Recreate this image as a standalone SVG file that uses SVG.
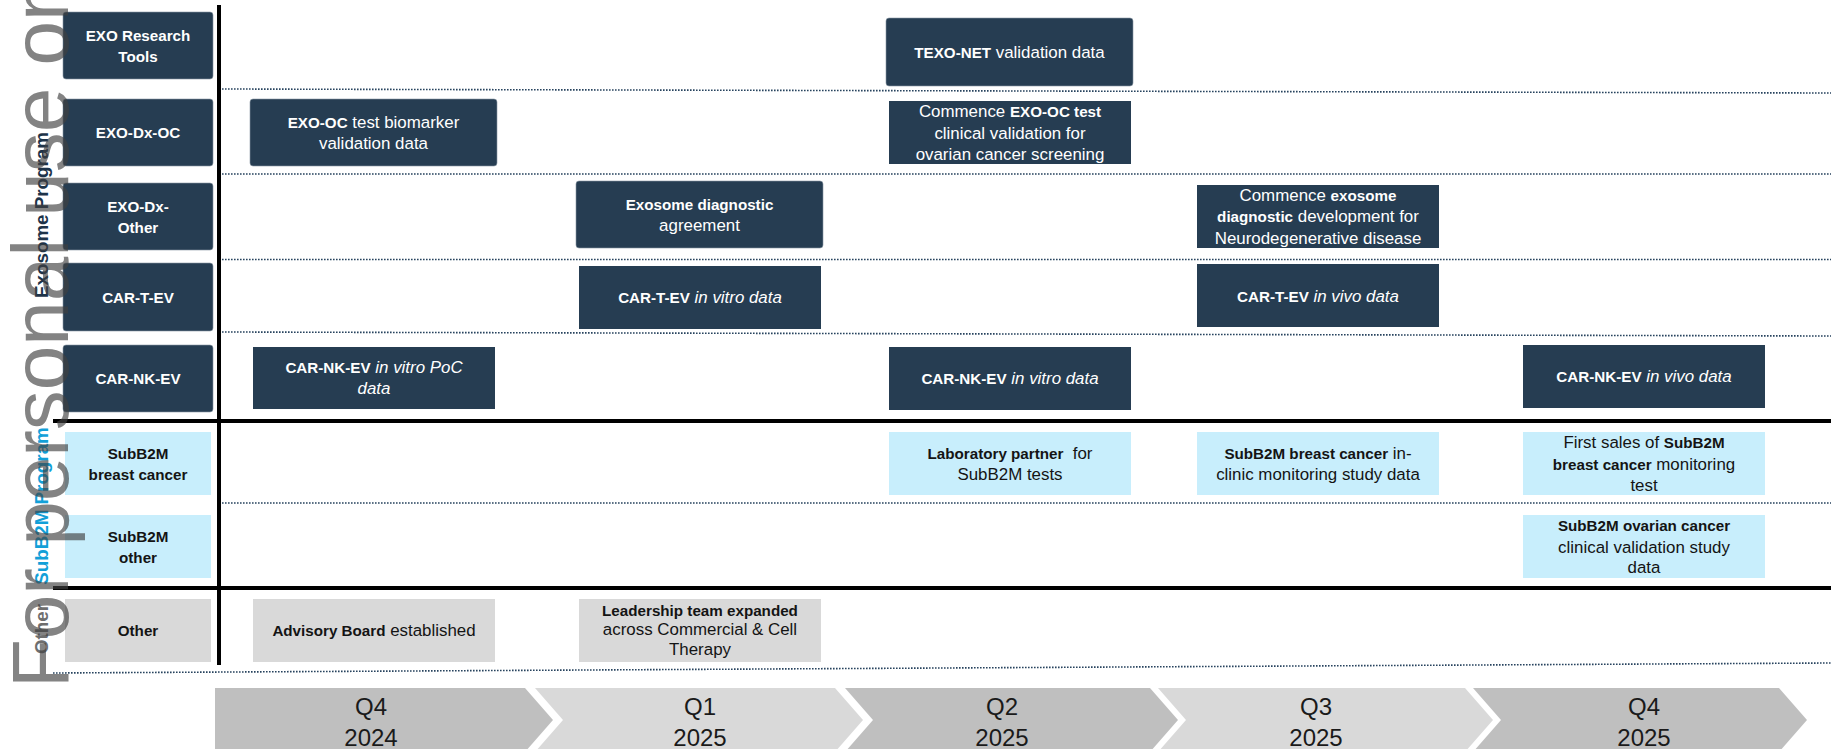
<svg xmlns="http://www.w3.org/2000/svg" width="1831" height="749" viewBox="0 0 1831 749">
<style>
.dk{fill:#263d52}
.dkr{fill:#263d52;stroke:#8b98a4;stroke-width:1;stroke-opacity:0.6}
.lb{fill:#c8eefc}
.gy{fill:#d9d9d9}
.chd{fill:#bfbfbf}
.chl{fill:#d9d9d9}
text{font-family:"Liberation Sans",Arial,sans-serif;text-anchor:middle}
.w{fill:#ffffff}
.k{fill:#141414}
.r{font-size:16.9px}
.b{font-weight:bold;font-size:15.2px}
.i{font-style:italic;font-size:16.9px}
.q{font-size:24px;fill:#1a1a1a}
.dot{stroke:#27435e;stroke-width:1.6;stroke-dasharray:1.6 1.4;fill:none}
.sol{stroke:#000;stroke-width:4;fill:none}
.vl{font-weight:bold;font-size:18.8px}
</style>

<g id="grid">
<line class="dot" x1="222" y1="89" x2="1831" y2="93"/>
<line class="dot" x1="222" y1="174" x2="1831" y2="174"/>
<line class="dot" x1="222" y1="259.5" x2="1831" y2="259.5"/>
<line class="dot" x1="222" y1="332" x2="1831" y2="336"/>
<line class="dot" x1="222" y1="503" x2="1831" y2="503"/>
<line class="dot" x1="53" y1="673" x2="1831" y2="663"/>
<line class="sol" x1="53" y1="421" x2="1831" y2="421"/>
<line class="sol" x1="53" y1="588" x2="1831" y2="588"/>
<line class="sol" x1="219" y1="5" x2="219" y2="665"/>
</g>

<g id="section-labels">
<text class="vl" transform="translate(48,215) rotate(-90)" fill="#1d3349">Exosome Program</text>
<text class="vl" transform="translate(48,506) rotate(-90)" fill="#12a0d8">SubB2M Program</text>
<text class="vl" transform="translate(48,629) rotate(-90)" fill="#6e6e6e">Other</text>
</g>

<g id="row-exo-research-tools">
<rect class="dkr" x="63" y="12" width="150" height="67" rx="3"/>
<text class="w b" x="138" y="40.5">EXO Research</text>
<text class="w b" x="138" y="61.5">Tools</text>
</g>
<g id="row-exo-dx-oc">
<rect class="dkr" x="63" y="99" width="150" height="67" rx="3"/>
<text class="w b" x="138" y="138">EXO-Dx-OC</text>
</g>
<g id="row-exo-dx-other">
<rect class="dkr" x="63" y="183" width="150" height="67" rx="3"/>
<text class="w b" x="138" y="211.5">EXO-Dx-</text>
<text class="w b" x="138" y="232.5">Other</text>
</g>
<g id="row-car-t-ev">
<rect class="dkr" x="63" y="263" width="150" height="68" rx="3"/>
<text class="w b" x="138" y="302.5">CAR-T-EV</text>
</g>
<g id="row-car-nk-ev">
<rect class="dkr" x="63" y="345" width="150" height="67" rx="3"/>
<text class="w b" x="138" y="384">CAR-NK-EV</text>
</g>
<g id="row-subb2m-breast">
<rect class="lb" x="65" y="432" width="146" height="63"/>
<text class="k b" x="138" y="458.5">SubB2M</text>
<text class="k b" x="138" y="479.5">breast cancer</text>
</g>
<g id="row-subb2m-other">
<rect class="lb" x="65" y="515" width="146" height="63"/>
<text class="k b" x="138" y="541.5">SubB2M</text>
<text class="k b" x="138" y="562.5">other</text>
</g>
<g id="row-other">
<rect class="gy" x="65" y="599" width="146" height="63"/>
<text class="k b" x="138" y="636">Other</text>
</g>

<g id="m-exo-oc-biomarker">
<rect class="dkr" x="250" y="99" width="247" height="67" rx="3"/>
<text class="w r" x="373.5" y="127.5"><tspan class="b">EXO-OC</tspan> test biomarker</text>
<text class="w r" x="373.5" y="148.5">validation data</text>
</g>
<g id="m-car-nk-invitro-poc">
<rect class="dk" x="253" y="347" width="242" height="62"/>
<text class="w r" x="374" y="373"><tspan class="b">CAR-NK-EV</tspan><tspan class="i"> in vitro PoC</tspan></text>
<text class="w i" x="374" y="394">data</text>
</g>
<g id="m-advisory-board">
<rect class="gy" x="253" y="599" width="242" height="63"/>
<text class="k r" x="374" y="636"><tspan class="b">Advisory Board</tspan> established</text>
</g>

<g id="m-exosome-dx-agreement">
<rect class="dkr" x="576" y="181" width="247" height="67" rx="3"/>
<text class="w b" x="699.5" y="209.5">Exosome diagnostic</text>
<text class="w r" x="699.5" y="230.5">agreement</text>
</g>
<g id="m-car-t-invitro">
<rect class="dk" x="579" y="266" width="242" height="63"/>
<text class="w r" x="700" y="303"><tspan class="b">CAR-T-EV</tspan><tspan class="i"> in vitro data</tspan></text>
</g>
<g id="m-leadership">
<rect class="gy" x="579" y="599" width="242" height="63"/>
<text class="k b" x="700" y="615.5">Leadership team expanded</text>
<text class="k r" x="700" y="635">across Commercial &amp; Cell</text>
<text class="k r" x="700" y="654.5">Therapy</text>
</g>

<g id="m-texo-net">
<rect class="dkr" x="886" y="18" width="247" height="68" rx="3"/>
<text class="w r" x="1009.5" y="57.5"><tspan class="b">TEXO-NET</tspan> validation data</text>
</g>
<g id="m-exo-oc-clinical">
<rect class="dk" x="889" y="101" width="242" height="63"/>
<text class="w r" x="1010" y="117">Commence <tspan class="b">EXO-OC test</tspan></text>
<text class="w r" x="1010" y="138.5">clinical validation for</text>
<text class="w r" x="1010" y="160">ovarian cancer screening</text>
</g>
<g id="m-car-nk-invitro">
<rect class="dk" x="889" y="347" width="242" height="63"/>
<text class="w r" x="1010" y="384"><tspan class="b">CAR-NK-EV</tspan><tspan class="i"> in vitro data</tspan></text>
</g>
<g id="m-lab-partner">
<rect class="lb" x="889" y="432" width="242" height="63"/>
<text class="k r" x="1010" y="458.5" style="white-space:pre"><tspan class="b">Laboratory partner</tspan>  for</text>
<text class="k r" x="1010" y="479.5">SubB2M tests</text>
</g>

<g id="m-exosome-dx-neuro">
<rect class="dk" x="1197" y="185" width="242" height="63"/>
<text class="w r" x="1318" y="200.5">Commence <tspan class="b">exosome</tspan></text>
<text class="w r" x="1318" y="222"><tspan class="b">diagnostic</tspan> development for</text>
<text class="w r" x="1318" y="243.5">Neurodegenerative disease</text>
</g>
<g id="m-car-t-invivo">
<rect class="dk" x="1197" y="264" width="242" height="63"/>
<text class="w r" x="1318" y="301.5"><tspan class="b">CAR-T-EV</tspan><tspan class="i"> in vivo data</tspan></text>
</g>
<g id="m-subb2m-inclinic">
<rect class="lb" x="1197" y="432" width="242" height="63"/>
<text class="k r" x="1318" y="458.5"><tspan class="b">SubB2M breast cancer</tspan> in-</text>
<text class="k r" x="1318" y="479.5">clinic monitoring study data</text>
</g>

<g id="m-car-nk-invivo">
<rect class="dk" x="1523" y="345" width="242" height="63"/>
<text class="w r" x="1644" y="382"><tspan class="b">CAR-NK-EV</tspan><tspan class="i"> in vivo data</tspan></text>
</g>
<g id="m-first-sales">
<rect class="lb" x="1523" y="432" width="242" height="63"/>
<text class="k r" x="1644" y="448">First sales of <tspan class="b">SubB2M</tspan></text>
<text class="k r" x="1644" y="469.5"><tspan class="b">breast cancer</tspan> monitoring</text>
<text class="k r" x="1644" y="490.5">test</text>
</g>
<g id="m-subb2m-ovarian">
<rect class="lb" x="1523" y="515" width="242" height="63"/>
<text class="k b" x="1644" y="531">SubB2M ovarian cancer</text>
<text class="k r" x="1644" y="552.5">clinical validation study</text>
<text class="k r" x="1644" y="573">data</text>
</g>

<g id="timeline">
<g id="q4-2024">
<polygon class="chd" points="215,688 525,688 553,720 525,752 215,752"/>
<text class="q" x="371" y="715">Q4</text>
<text class="q" x="371" y="746">2024</text>
</g>
<g id="q1-2025">
<polygon class="chl" points="535,688 835,688 863,720 835,752 535,752 563,720"/>
<text class="q" x="700" y="715">Q1</text>
<text class="q" x="700" y="746">2025</text>
</g>
<g id="q2-2025">
<polygon class="chd" points="845,688 1150,688 1178,720 1150,752 845,752 873,720"/>
<text class="q" x="1002" y="715">Q2</text>
<text class="q" x="1002" y="746">2025</text>
</g>
<g id="q3-2025">
<polygon class="chl" points="1158,688 1465,688 1493,720 1465,752 1158,752 1186,720"/>
<text class="q" x="1316" y="715">Q3</text>
<text class="q" x="1316" y="746">2025</text>
</g>
<g id="q4-2025">
<polygon class="chd" points="1473,688 1779,688 1807,720 1779,752 1473,752 1501,720"/>
<text class="q" x="1644" y="715">Q4</text>
<text class="q" x="1644" y="746">2025</text>
</g>
</g>

<g id="watermark">
<text transform="translate(68,688) rotate(-90)" style="font-size:80px;text-anchor:start;fill:#404040;fill-opacity:0.65">For personal use only</text>
</g>
</svg>
